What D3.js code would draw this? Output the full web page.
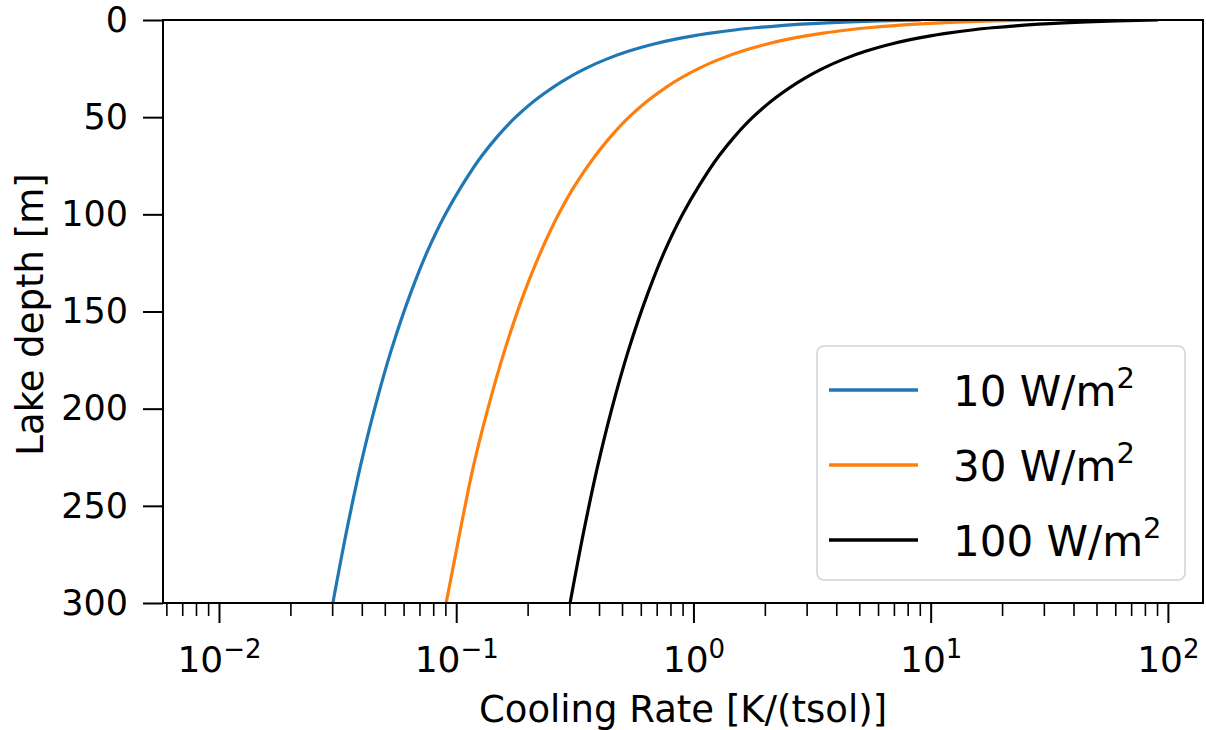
<!DOCTYPE html>
<html>
<head>
<meta charset="utf-8">
<script src="https://cdn.jsdelivr.net/npm/d3@7"></script>
<style>
  html, body { margin: 0; padding: 0; background: #fff; }
  svg { display: block; }
  text { font-family: "DejaVu Sans", sans-serif; fill: #000; }
</style>
</head>
<body>
<svg id="chart" width="1206" height="730"></svg>
<script>
// Depth samples (m) and cooling rate per flux level (K per tsol)
const depths = [0, 0.5, 1, 1.5, 2, 3, 4, 5, 7, 10, 13, 16, 20, 25, 30, 40, 50, 60, 70, 85, 100, 120, 140, 170, 200, 230, 260, 300];
const rate10 = [9.1, 6.07, 4.55, 3.64, 3.03, 2.28, 1.82, 1.52, 1.14, 0.83, 0.65, 0.535, 0.433, 0.350, 0.294, 0.222, 0.178, 0.149, 0.128, 0.106, 0.090, 0.075, 0.0645, 0.0532, 0.0453, 0.0394, 0.0349, 0.0302];
const rate30 = [27.3, 18.2, 13.65, 10.9, 9.1, 6.83, 5.46, 4.55, 3.41, 2.48, 1.95, 1.61, 1.30, 1.05, 0.88, 0.666, 0.535, 0.448, 0.385, 0.317, 0.270, 0.226, 0.194, 0.160, 0.136, 0.118, 0.105, 0.0907];
const rate100 = [91, 60.7, 45.5, 36.4, 30.3, 22.8, 18.2, 15.2, 11.4, 8.3, 6.5, 5.35, 4.33, 3.50, 2.94, 2.22, 1.78, 1.49, 1.28, 1.06, 0.90, 0.75, 0.645, 0.532, 0.453, 0.394, 0.349, 0.302];

const seriesLabels = ["10", "30", "100"];
const seriesColors = ["#1f77b4", "#ff7f0e", "#000000"];
const seriesRates = [rate10, rate30, rate100];

const yTicks = [0, 50, 100, 150, 200, 250, 300];
const xMajorExponents = [-2, -1, 0, 1, 2];

const svg = d3.select("#chart");
const plot = { left: 163, right: 1203, top: 20, bottom: 603 };

const x = d3.scaleLog()
  .domain([Math.pow(10, -2.236), Math.pow(10, 2.148)])
  .range([plot.left, plot.right]);
const y = d3.scaleLinear()
  .domain([0, 300])
  .range([plot.top, plot.bottom]);

svg.append("defs").append("clipPath").attr("id", "plotClip")
  .append("rect")
  .attr("x", plot.left).attr("y", plot.top)
  .attr("width", plot.right - plot.left).attr("height", plot.bottom - plot.top);

// minor ticks on log axis
const [d0, d1] = x.domain();
const minorTicks = [];
for (let e = Math.floor(Math.log10(d0)); e <= Math.ceil(Math.log10(d1)); e++) {
  for (let m = 2; m <= 9; m++) {
    const v = m * Math.pow(10, e);
    if (v >= d0 && v <= d1) minorTicks.push(v);
  }
}

const tickColor = "#000";

// x minor ticks
svg.append("g")
  .attr("transform", `translate(0,${plot.bottom})`)
  .call(d3.axisBottom(x).tickValues(minorTicks).tickSize(13).tickFormat(""))
  .call(g => g.select(".domain").remove())
  .call(g => g.selectAll("line").attr("stroke", tickColor).attr("stroke-width", 1.6));

// x major ticks with power-of-ten labels
const xAxis = svg.append("g")
  .attr("transform", `translate(0,${plot.bottom})`)
  .call(d3.axisBottom(x)
    .tickValues(xMajorExponents.map(e => Math.pow(10, e)))
    .tickSize(20)
    .tickPadding(20)
    .tickFormat(""));
xAxis.select(".domain").remove();
xAxis.selectAll("line").attr("stroke", tickColor).attr("stroke-width", 2);
xAxis.selectAll("text")
  .attr("y", 69)
  .attr("dy", null)
  .style("font-size", "36px")
  .attr("fill", "#000")
  .each(function(d) {
    const t = d3.select(this);
    const e = Math.round(Math.log10(d));
    t.text(null);
    t.append("tspan").text("10");
    t.append("tspan")
      .attr("dy", -14)
      .style("font-size", "26px")
      .text(e < 0 ? "\u2212" + (-e) : String(e));
  });

// y ticks
const yAxis = svg.append("g")
  .attr("transform", `translate(${plot.left},0)`)
  .call(d3.axisLeft(y).tickValues(yTicks).tickSize(20).tickPadding(15));
yAxis.select(".domain").remove();
yAxis.selectAll("line").attr("stroke", tickColor).attr("stroke-width", 2);
yAxis.selectAll("text").style("font-size", "35px").attr("fill", "#000");

// curves
const line = d3.line()
  .x(d => x(d[1]))
  .y(d => y(d[0]))
  .curve(d3.curveMonotoneY);

const curves = svg.append("g").attr("clip-path", "url(#plotClip)");
seriesRates.forEach((rates, i) => {
  curves.append("path")
    .datum(depths.map((dep, j) => [dep, rates[j]]))
    .attr("fill", "none")
    .attr("stroke", seriesColors[i])
    .attr("stroke-width", 3.2)
    .attr("d", line);
});

// frame
svg.append("rect")
  .attr("x", plot.left).attr("y", plot.top)
  .attr("width", plot.right - plot.left).attr("height", plot.bottom - plot.top)
  .attr("fill", "none")
  .attr("stroke", "#000")
  .attr("stroke-width", 2);

// axis titles
svg.append("text")
  .attr("x", (plot.left + plot.right) / 2)
  .attr("y", 722)
  .attr("text-anchor", "middle")
  .style("font-size", "37px")
  .text("Cooling Rate [K/(tsol)]");

svg.append("text")
  .attr("transform", `translate(43,${(plot.top + plot.bottom) / 2 + 3}) rotate(-90)`)
  .attr("text-anchor", "middle")
  .style("font-size", "37px")
  .text("Lake depth [m]");

// legend
const legend = svg.append("g");
legend.append("rect")
  .attr("x", 817).attr("y", 346)
  .attr("width", 368).attr("height", 234)
  .attr("rx", 7)
  .attr("fill", "#fff").attr("fill-opacity", 0.8)
  .attr("stroke", "#d4d4d4").attr("stroke-width", 1.6);

seriesLabels.forEach((lab, i) => {
  const ly = 390 + i * 75;
  legend.append("line")
    .attr("x1", 829).attr("x2", 918)
    .attr("y1", ly).attr("y2", ly)
    .attr("stroke", seriesColors[i])
    .attr("stroke-width", 3.5);
  const t = legend.append("text")
    .attr("x", 953).attr("y", ly + 16)
    .style("font-size", "42px");
  t.append("tspan").text(lab + " W/m");
  t.append("tspan")
    .attr("dy", -18)
    .style("font-size", "29px")
    .text("2");
});
</script>
</body>
</html>
